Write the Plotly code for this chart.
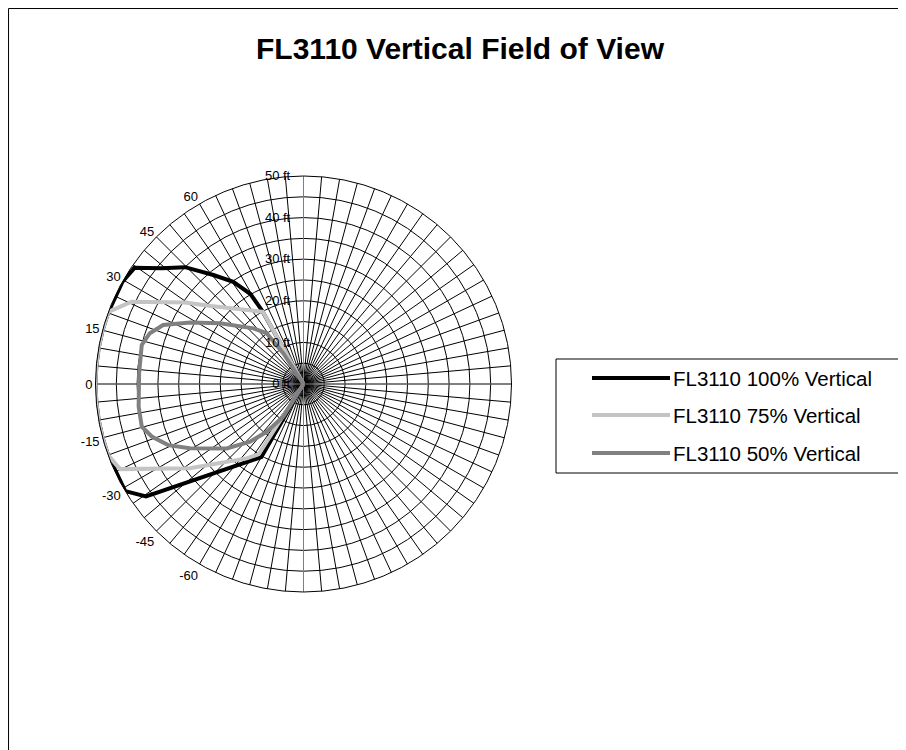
import plotly.graph_objects as go

# ---------------- data (degrees from horizontal-left, positive up; distance in ft) -------------
series_names = ["FL3110 100% Vertical", "FL3110 75% Vertical", "FL3110 50% Vertical"]

theta_100 = [-65, -60, -35.5, -31, -20, -15, -10, -5, 0, 5, 10, 15, 20, 29.5, 34.5, 39.2, 44.6, 50.4, 55.5, 59.5, 60.5, 65]
r_100 = [0, 20.3, 46.5, 50, 50, 50, 50, 50, 50, 50, 50, 50, 50, 50, 49.3, 44, 40, 34, 29.8, 25.1, 20.4, 0]

theta_75 = [-65, -57.5, -52.6, -36.6, -24.9, -20, -15, -10, -5, 0, 5, 10, 15, 20.3, 25.6, 34.5, 40.1, 60.6, 65]
r_75 = [0, 20, 22.5, 34, 48.6, 50, 50, 50, 50, 50, 50, 50, 50, 50, 45.8, 34.6, 29.1, 19.9, 0]

theta_50 = [-65, -58.3, -52.4, -47.2, -40, -29.5, -24.3, -19.1, -14.8, -7.8, 3.7, 13.6, 18.3, 22.8, 28.5, 36, 48, 54, 56.7, 65]
r_50 = [0, 9.2, 14.5, 18.9, 24.1, 31.4, 35.7, 38.6, 40.2, 40, 39.6, 40, 38.9, 36.6, 31, 24.8, 18, 15.1, 8.8, 0]

angle_labels = {0: "0", 15: "15", 30: "30", 45: "45", 60: "60",
                300: "-60", 315: "-45", 330: "-30", 345: "-15"}
radial_ticks = list(range(0, 55, 5))
radial_labels = [f"{v} ft\u00a0\u00a0\u00a0" if v % 10 == 0 else "" for v in radial_ticks]

colors = ["#000000", "#c4c4c4", "#808080"]

W, H = 906, 750
OFF = 8  # page body margin
FONT = "Liberation Sans, Arial, sans-serif"


def px(x):
    return (x - OFF) / W


def py(y):
    return 1 - (y - OFF) / H


fig = go.Figure()

# gray diameters (axis lines of the original)
fig.add_trace(go.Scatterpolar(r=[50, 0, 50], theta=[0, 0, 180], mode="lines",
                              line=dict(color="#808080", width=1), hoverinfo="skip", showlegend=False))
fig.add_trace(go.Scatterpolar(r=[50, 0, 50], theta=[90, 90, 270], mode="lines",
                              line=dict(color="#808080", width=1), hoverinfo="skip", showlegend=False))

for name, th, rr, c in zip(series_names, [theta_100, theta_75, theta_50], [r_100, r_75, r_50], colors):
    fig.add_trace(go.Scatterpolar(r=rr, theta=th, mode="lines", name=name,
                                  line=dict(color=c, width=4), showlegend=False))

angle_vals = list(range(0, 360, 5))
angle_text = [angle_labels.get(a, "") for a in angle_vals]

cx, cy, R = 303.5, 384, 208
fig.update_layout(
    width=W, height=H,
    margin=dict(l=0, r=0, t=0, b=0),
    paper_bgcolor="white",
    font=dict(family=FONT, color="black"),
    polar=dict(
        domain=dict(x=[px(cx - R), px(cx + R)], y=[py(cy + R), py(cy - R)]),
        bgcolor="white",
        angularaxis=dict(rotation=180, direction="clockwise", tickmode="array",
                         tickvals=angle_vals, ticktext=angle_text, ticks="",
                         showgrid=True, gridcolor="black", gridwidth=1,
                         showline=True, linecolor="black", linewidth=1,
                         tickfont=dict(size=13, family=FONT, color="black")),
        radialaxis=dict(range=[0, 50], angle=90, side="counterclockwise", tickangle=90,
                        tickmode="array", tickvals=radial_ticks, ticktext=radial_labels,
                        ticks="", showline=False, showgrid=True, gridcolor="black", gridwidth=1,
                        tickfont=dict(size=13, family=FONT, color="black")),
    ),
    title=dict(text="<b>FL3110 Vertical Field of View</b>", x=px(460), xanchor="center",
               y=py(48), yanchor="middle", yref="container",
               font=dict(size=30, family=FONT, color="black")),
)

# chart frame
fig.add_shape(type="rect", xref="paper", yref="paper", x0=0.0006, x1=1.02, y0=-0.02, y1=0.9993,
              line=dict(color="black", width=1), fillcolor="rgba(0,0,0,0)", layer="above")

# legend box (drawn to match the original layout)
lx0, ly0, ly1 = 556, 359, 473
fig.add_shape(type="rect", xref="paper", yref="paper", x0=px(lx0), x1=1.02, y0=py(ly1), y1=py(ly0),
              line=dict(color="black", width=1), fillcolor="white", layer="above")
rows_y = [378, 415, 453]
for name, c, yy in zip(series_names, colors, rows_y):
    fig.add_shape(type="line", xref="paper", yref="paper", x0=px(592), x1=px(670),
                  y0=py(yy), y1=py(yy), line=dict(color=c, width=4), layer="above")
    fig.add_annotation(x=px(671), y=py(yy), xref="paper", yref="paper", text=name,
                       showarrow=False, xanchor="left", yanchor="middle",
                       font=dict(size=20.5, family=FONT, color="black"))

fig.write_html("out.html")
